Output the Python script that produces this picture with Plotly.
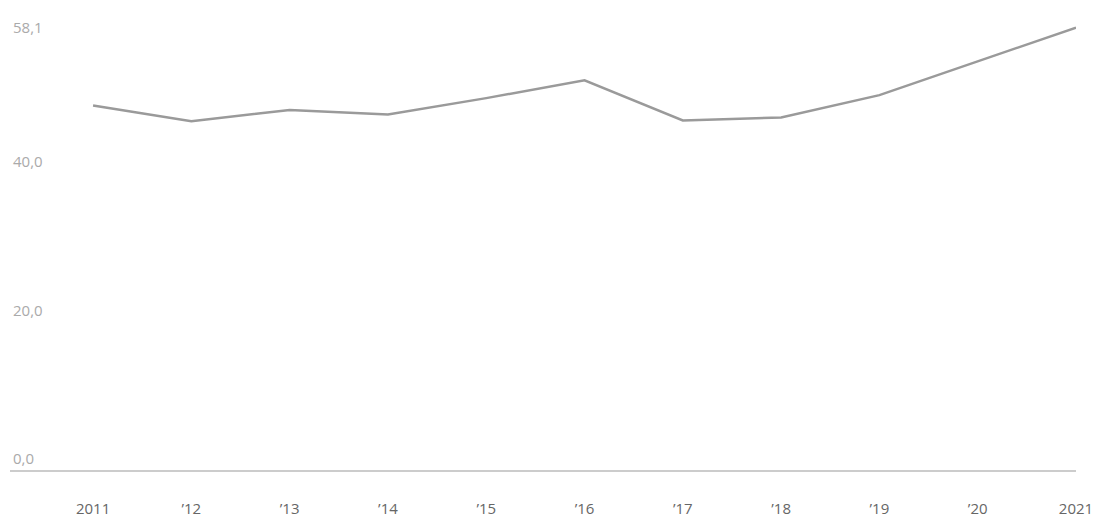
import plotly.graph_objects as go

years = [2011, 2012, 2013, 2014, 2015, 2016, 2017, 2018, 2019, 2020, 2021]
values = [47.6, 45.5, 47.0, 46.4, 48.6, 51.0, 45.6, 46.0, 49.0, 53.5, 58.1]
x_tick_labels = ["2011", "’12", "’13", "’14", "’15", "’16", "’17", "’18", "’19", "’20", "2021"]
y_tick_vals = [0, 20, 40, 58.1]
y_tick_labels = ["0,0", "20,0", "40,0", "58,1"]

fig = go.Figure()
fig.add_trace(go.Scatter(
    x=years, y=values, mode="lines",
    line=dict(color="#9a9a9a", width=2.5),
    cliponaxis=False, hoverinfo="skip", showlegend=False,
))

fig.update_layout(
    width=1100, height=518,
    margin=dict(l=10, r=24, t=12, b=48),
    paper_bgcolor="white", plot_bgcolor="white",
    font=dict(family="Open Sans", color="#666666", size=13),
    xaxis=dict(
        range=[2010.155, 2021],
        tickvals=years, ticktext=x_tick_labels,
        showgrid=False, zeroline=False,
        showline=True, linecolor="#cccccc", linewidth=1.5,
        ticks="outside", ticklen=0, ticklabelstandoff=24,
        tickfont=dict(size=15, color="#666666"),
        automargin=False,
    ),
    yaxis=dict(
        range=[-1.5, 60.2],
        tickvals=y_tick_vals, ticktext=y_tick_labels,
        showgrid=False, zeroline=False, showline=False,
        ticklabelposition="inside",
        tickfont=dict(size=15, color="#aaaaaa"),
        automargin=False,
    ),
)

fig.write_html("out.html", config={"displayModeBar": False},
               post_script="document.body.style.margin='0';")
